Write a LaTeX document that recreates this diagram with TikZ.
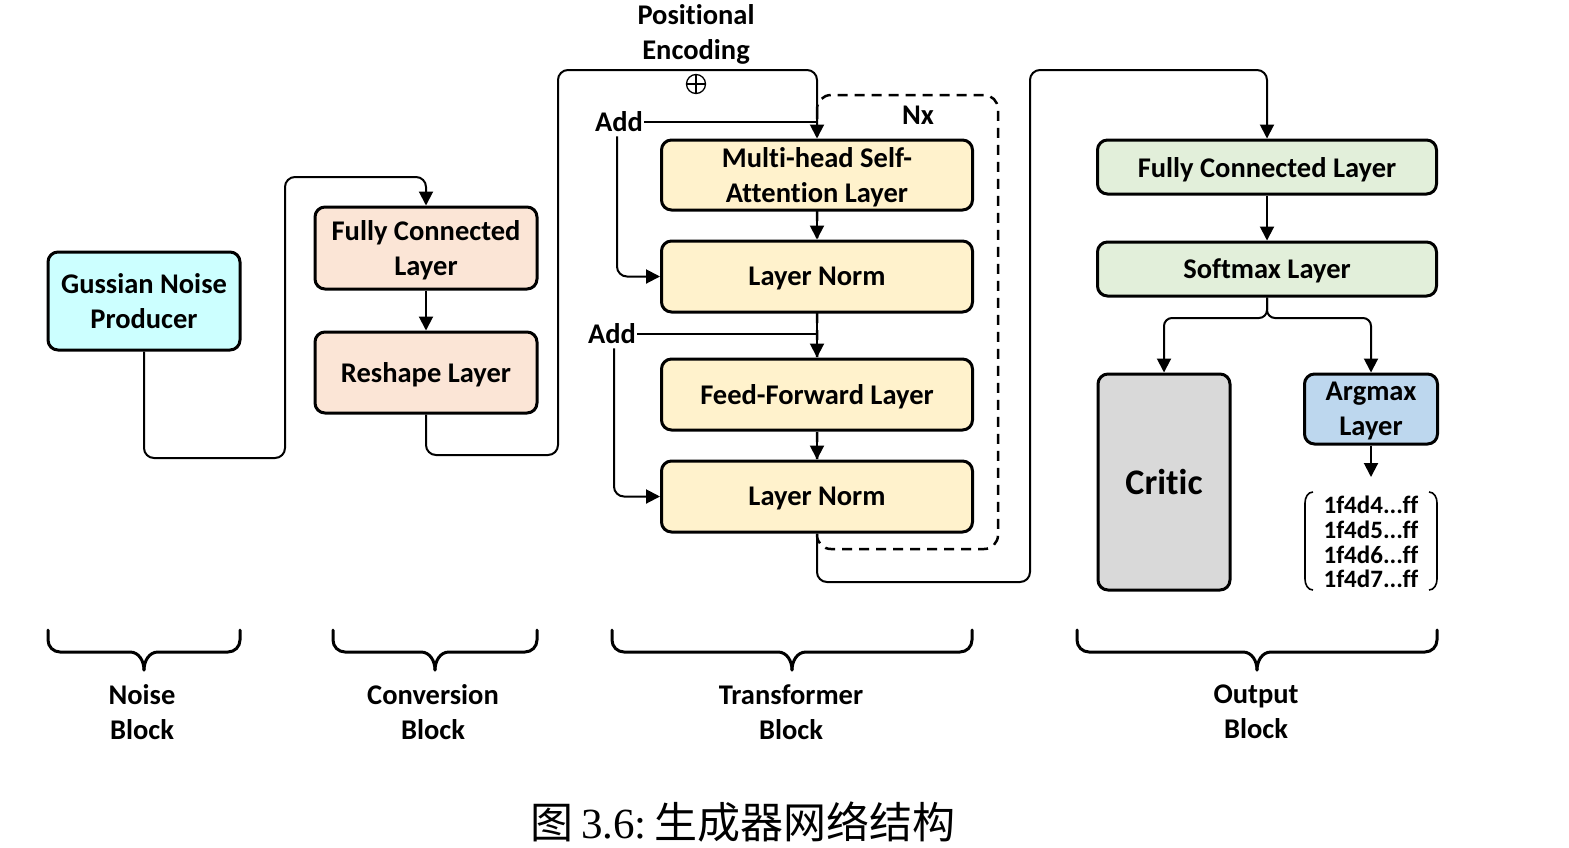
\documentclass[tikz,border=0pt]{standalone}
\usepackage{fontspec}
\setmainfont{Carlito}[Ligatures=NoCommon]
\newfontfamily\capserif{Liberation Serif}
\newfontfamily\cjk{Noto Sans CJK SC}
\usetikzlibrary{arrows.meta}
\definecolor{cnoise}{HTML}{CCFFFF}
\definecolor{cconv}{HTML}{FBE5D6}
\definecolor{ctrans}{HTML}{FFF2CC}
\definecolor{cout}{HTML}{E2EFDA}
\definecolor{ccritic}{HTML}{D9D9D9}
\definecolor{cargmax}{HTML}{BDD7EE}
\begin{document}
\begin{tikzpicture}[x=1pt,y=-1pt,
 box/.style={draw=black, line width=3pt, rounded corners=10pt, align=center,
   font=\bfseries\fontsize{28.5}{35}\selectfont, inner sep=0pt, text depth=0pt},
 conn/.style={draw=black, line width=2pt, rounded corners=10pt},
 arr/.style={conn, -{Triangle[length=14pt,width=14pt]}},
 lbl/.style={align=center, font=\bfseries\fontsize{28.5}{35}\selectfont, inner sep=0pt},
 bracepath/.style={line width=3pt, line cap=round},
 paren/.style={line width=1.6pt},
 oplusnode/.style={circle, draw=black, line width=1.3pt, minimum size=19pt, inner sep=0pt,
   path picture={\draw[line width=1.3pt] (path picture bounding box.north) -- (path picture bounding box.south)
     (path picture bounding box.west) -- (path picture bounding box.east);}}]
\fill[white] (0,0) rectangle (1569,847);
\useasboundingbox (0,0) rectangle (1569,847);

% dashed Nx box
\draw[line width=2.5pt, dash pattern=on 10pt off 7pt, rounded corners=14pt] (817,95) rectangle (998,549);
\node[lbl] (nx) at (918,115) {Nx};

% Noise block
\node[box, fill=cnoise, minimum width=192pt, minimum height=98pt] (noise) at (144,301) {Gussian Noise\\Producer};

% Conversion block
\node[box, fill=cconv, minimum width=222pt, minimum height=82pt] (convfc) at (426,248) {Fully Connected\\Layer};
\node[box, fill=cconv, minimum width=222pt, minimum height=81pt] (reshape) at (426,372.5) {Reshape Layer};

% Transformer block
\node[box, fill=ctrans, minimum width=311pt, minimum height=70pt] (mhsa) at (817,175) {Multi-head Self-\\Attention Layer};
\node[box, fill=ctrans, minimum width=311pt, minimum height=71pt] (ln1) at (817,276.5) {Layer Norm};
\node[box, fill=ctrans, minimum width=311pt, minimum height=71pt] (ff) at (817,394.5) {Feed-Forward Layer};
\node[box, fill=ctrans, minimum width=311pt, minimum height=71pt] (ln2) at (817,496.5) {Layer Norm};

\node[lbl] (pe) at (696,34) {Positional\\Encoding};
\node[oplusnode] (plus) at (696,84) {};
\node[lbl, inner sep=4pt] (add1) at (619,122) {Add};
\node[lbl, inner sep=4pt] (add2) at (612,334) {Add};

% Output block
\node[box, fill=cout, minimum width=339pt, minimum height=54pt] (outfc) at (1267,167) {Fully Connected Layer};
\node[box, fill=cout, minimum width=339pt, minimum height=54pt] (softmax) at (1267,269) {Softmax Layer};
\node[box, fill=ccritic, minimum width=132pt, minimum height=216pt, font=\bfseries\fontsize{36}{40}\selectfont] (critic) at (1164,482) {Critic};
\node[box, fill=cargmax, minimum width=133pt, minimum height=70pt] (argmax) at (1371,409) {Argmax\\Layer};
\node[lbl, font=\bfseries\fontsize{25}{24.7}\selectfont] (list) at (1371,542) {1f4d4...ff\\1f4d5...ff\\1f4d6...ff\\1f4d7...ff};
\coordinate (listtop) at (1371,477);
\draw[paren] (1313,492) to[out=180,in=90] (1305,503) -- (1305,579) to[out=-90,in=180] (1313,590);
\draw[paren] (1429,492) to[out=0,in=90] (1437,503) -- (1437,579) to[out=-90,in=0] (1429,590);

% connectors
\draw[arr] (noise.south) |- (285,458) |- (426,177) -- (convfc.north);
\draw[arr] (convfc.south) -- (reshape.north);
\draw[arr] (reshape.south) |- (558,455) |- (817,70) -- (mhsa.north);
\draw[conn] ([xshift=-3pt]add1.east) -- (add1.east -| mhsa.north);
\draw[arr] ([xshift=-2pt]add1.south) |- (ln1.west);
\draw[arr] (mhsa.south) -- (ln1.north);
\draw[arr] (ln1.south) -- (ff.north);
\draw[conn] ([xshift=-3pt]add2.east) -- (add2.east -| ff.north);
\draw[arr] ([xshift=2pt]add2.south) |- (ln2.west);
\draw[arr] (ff.south) -- (ln2.north);
\draw[arr] (ln2.south) |- (1030,582) |- (1267,70) -- (outfc.north);
\draw[arr] (outfc.south) -- (softmax.north);
\draw[arr, rounded corners=8pt] (softmax.south) -- (1267,318) -| (critic.north);
\draw[arr, rounded corners=8pt] (softmax.south) -- (1267,318) -| (argmax.north);
\draw[arr] (argmax.south) -- (listtop);

% braces
\foreach \a/\b in {48/240, 333/537, 612/972, 1077/1437}{
  \pgfmathsetmacro{\m}{(\a+\b)/2}
  \draw[bracepath] (\a,630) -- (\a,640) to[out=-90,in=180] (\a+12,652) -- (\m-14,652) to[out=0,in=90] (\m,670);
  \draw[bracepath] (\b,630) -- (\b,640) to[out=-90,in=0] (\b-12,652) -- (\m+14,652) to[out=180,in=90] (\m,670);
}
\node[lbl] (bnoise) at (142,712) {Noise\\Block};
\node[lbl] (bconv) at (433,712) {Conversion\\Block};
\node[lbl] (btrans) at (791,712) {Transformer\\Block};
\node[lbl] (bout) at (1256,712) {Output\\Block};

% caption
\node[inner sep=0pt, font=\fontsize{43}{43}\selectfont] (cap) at (743,822) {{\cjk 图}\,{\capserif 3.6:}\,{\cjk 生成器网络结构}};
\end{tikzpicture}
\end{document}
